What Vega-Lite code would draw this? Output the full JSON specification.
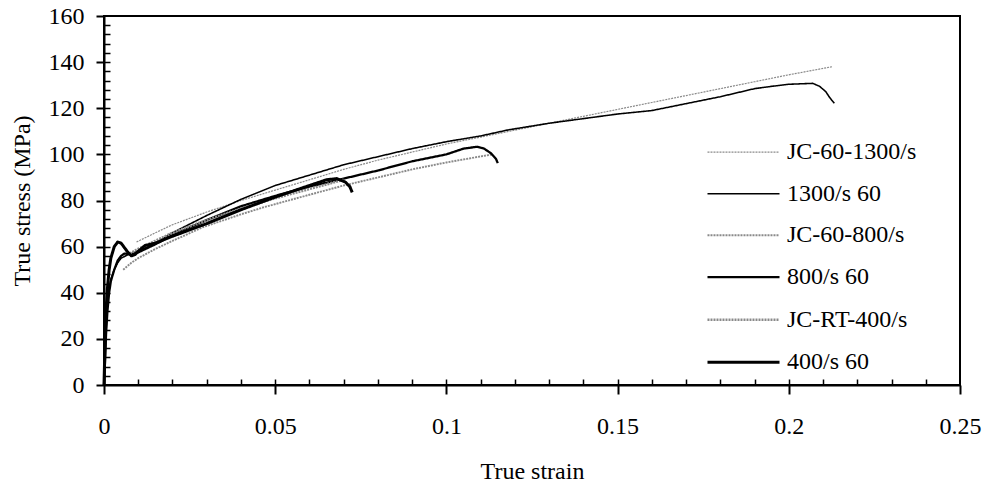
{
  "$schema": "https://vega.github.io/schema/vega-lite/v6.json",
  "autosize": {"type": "none"},
  "width": 856,
  "height": 369,
  "padding": {"left": 104, "top": 16, "right": 26, "bottom": 100},
  "background": "white",
  "config": {
    "font": "Liberation Serif",
    "view": {"stroke": "#000000", "strokeWidth": 2},
    "axis": {
      "labelFont": "Liberation Serif",
      "titleFont": "Liberation Serif",
      "labelFontSize": 24,
      "titleFontSize": 24,
      "titleFontWeight": "normal",
      "labelColor": "black",
      "titleColor": "black",
      "grid": false,
      "labelFlush": false,
      "labelOverlap": false
    },
    "legend": {
      "labelFont": "Liberation Serif",
      "labelFontSize": 24,
      "labelColor": "black"
    }
  },
  "data": {
    "values": [
      {"s": "JC-60-1300/s", "x": 0.0095, "y": 62},
      {"s": "JC-60-1300/s", "x": 0.015, "y": 66},
      {"s": "JC-60-1300/s", "x": 0.02, "y": 69.5},
      {"s": "JC-60-1300/s", "x": 0.03, "y": 75},
      {"s": "JC-60-1300/s", "x": 0.04, "y": 80},
      {"s": "JC-60-1300/s", "x": 0.05, "y": 84.5},
      {"s": "JC-60-1300/s", "x": 0.06, "y": 89},
      {"s": "JC-60-1300/s", "x": 0.07, "y": 93.5},
      {"s": "JC-60-1300/s", "x": 0.08, "y": 97.5},
      {"s": "JC-60-1300/s", "x": 0.09, "y": 101},
      {"s": "JC-60-1300/s", "x": 0.1, "y": 104.5},
      {"s": "JC-60-1300/s", "x": 0.11, "y": 107.5},
      {"s": "JC-60-1300/s", "x": 0.12, "y": 110.5},
      {"s": "JC-60-1300/s", "x": 0.13, "y": 113.5},
      {"s": "JC-60-1300/s", "x": 0.14, "y": 116.5},
      {"s": "JC-60-1300/s", "x": 0.15, "y": 119.5},
      {"s": "JC-60-1300/s", "x": 0.16, "y": 122.5},
      {"s": "JC-60-1300/s", "x": 0.17, "y": 125.5},
      {"s": "JC-60-1300/s", "x": 0.18, "y": 128.5},
      {"s": "JC-60-1300/s", "x": 0.19, "y": 131.5},
      {"s": "JC-60-1300/s", "x": 0.2, "y": 134.5},
      {"s": "JC-60-1300/s", "x": 0.2126, "y": 138},

      {"s": "1300/s  60", "x": 0, "y": 0},
      {"s": "1300/s  60", "x": 0.0003, "y": 12},
      {"s": "1300/s  60", "x": 0.0006, "y": 25},
      {"s": "1300/s  60", "x": 0.001, "y": 36},
      {"s": "1300/s  60", "x": 0.0015, "y": 42},
      {"s": "1300/s  60", "x": 0.002, "y": 46},
      {"s": "1300/s  60", "x": 0.003, "y": 50},
      {"s": "1300/s  60", "x": 0.004, "y": 53},
      {"s": "1300/s  60", "x": 0.005, "y": 55},
      {"s": "1300/s  60", "x": 0.007, "y": 56.5},
      {"s": "1300/s  60", "x": 0.01, "y": 58},
      {"s": "1300/s  60", "x": 0.015, "y": 61.5},
      {"s": "1300/s  60", "x": 0.02, "y": 66},
      {"s": "1300/s  60", "x": 0.03, "y": 73.5},
      {"s": "1300/s  60", "x": 0.04, "y": 80.5},
      {"s": "1300/s  60", "x": 0.05, "y": 86.5},
      {"s": "1300/s  60", "x": 0.06, "y": 91},
      {"s": "1300/s  60", "x": 0.07, "y": 95.5},
      {"s": "1300/s  60", "x": 0.08, "y": 99},
      {"s": "1300/s  60", "x": 0.09, "y": 102.5},
      {"s": "1300/s  60", "x": 0.1, "y": 105.5},
      {"s": "1300/s  60", "x": 0.11, "y": 108},
      {"s": "1300/s  60", "x": 0.118, "y": 110.6},
      {"s": "1300/s  60", "x": 0.13, "y": 113.5},
      {"s": "1300/s  60", "x": 0.14, "y": 115.5},
      {"s": "1300/s  60", "x": 0.15, "y": 117.5},
      {"s": "1300/s  60", "x": 0.16, "y": 119},
      {"s": "1300/s  60", "x": 0.17, "y": 122},
      {"s": "1300/s  60", "x": 0.18, "y": 125},
      {"s": "1300/s  60", "x": 0.19, "y": 128.5},
      {"s": "1300/s  60", "x": 0.195, "y": 129.5},
      {"s": "1300/s  60", "x": 0.2, "y": 130.4},
      {"s": "1300/s  60", "x": 0.207, "y": 130.8},
      {"s": "1300/s  60", "x": 0.209, "y": 129.5},
      {"s": "1300/s  60", "x": 0.2108, "y": 127.2},
      {"s": "1300/s  60", "x": 0.212, "y": 124.5},
      {"s": "1300/s  60", "x": 0.2133, "y": 122.2},

      {"s": "JC-60-800/s", "x": 0.0056, "y": 50},
      {"s": "JC-60-800/s", "x": 0.008, "y": 53},
      {"s": "JC-60-800/s", "x": 0.01, "y": 55},
      {"s": "JC-60-800/s", "x": 0.015, "y": 59},
      {"s": "JC-60-800/s", "x": 0.02, "y": 62.5},
      {"s": "JC-60-800/s", "x": 0.029, "y": 68.5},
      {"s": "JC-60-800/s", "x": 0.04, "y": 74},
      {"s": "JC-60-800/s", "x": 0.0465, "y": 77},
      {"s": "JC-60-800/s", "x": 0.06, "y": 82.5},
      {"s": "JC-60-800/s", "x": 0.07, "y": 86.5},
      {"s": "JC-60-800/s", "x": 0.08, "y": 90},
      {"s": "JC-60-800/s", "x": 0.09, "y": 93.5},
      {"s": "JC-60-800/s", "x": 0.1, "y": 96.5},
      {"s": "JC-60-800/s", "x": 0.1134, "y": 100},

      {"s": "800/s  60", "x": 0, "y": 0},
      {"s": "800/s  60", "x": 0.0003, "y": 10},
      {"s": "800/s  60", "x": 0.0006, "y": 22},
      {"s": "800/s  60", "x": 0.001, "y": 32},
      {"s": "800/s  60", "x": 0.0015, "y": 40},
      {"s": "800/s  60", "x": 0.002, "y": 45},
      {"s": "800/s  60", "x": 0.003, "y": 50},
      {"s": "800/s  60", "x": 0.004, "y": 54},
      {"s": "800/s  60", "x": 0.005, "y": 56},
      {"s": "800/s  60", "x": 0.006, "y": 57},
      {"s": "800/s  60", "x": 0.008, "y": 56.5},
      {"s": "800/s  60", "x": 0.01, "y": 57.5},
      {"s": "800/s  60", "x": 0.015, "y": 61},
      {"s": "800/s  60", "x": 0.02, "y": 65},
      {"s": "800/s  60", "x": 0.03, "y": 71.5},
      {"s": "800/s  60", "x": 0.04, "y": 77.5},
      {"s": "800/s  60", "x": 0.05, "y": 82},
      {"s": "800/s  60", "x": 0.06, "y": 86},
      {"s": "800/s  60", "x": 0.07, "y": 89.5},
      {"s": "800/s  60", "x": 0.08, "y": 93},
      {"s": "800/s  60", "x": 0.09, "y": 97},
      {"s": "800/s  60", "x": 0.1, "y": 100},
      {"s": "800/s  60", "x": 0.105, "y": 102.5},
      {"s": "800/s  60", "x": 0.109, "y": 103.3},
      {"s": "800/s  60", "x": 0.111, "y": 102.5},
      {"s": "800/s  60", "x": 0.113, "y": 100.5},
      {"s": "800/s  60", "x": 0.1145, "y": 98},
      {"s": "800/s  60", "x": 0.115, "y": 96.2},

      {"s": "JC-RT-400/s", "x": 0.0075, "y": 57},
      {"s": "JC-RT-400/s", "x": 0.01, "y": 59},
      {"s": "JC-RT-400/s", "x": 0.015, "y": 62.5},
      {"s": "JC-RT-400/s", "x": 0.02, "y": 66},
      {"s": "JC-RT-400/s", "x": 0.03, "y": 71.5},
      {"s": "JC-RT-400/s", "x": 0.04, "y": 76.5},
      {"s": "JC-RT-400/s", "x": 0.05, "y": 81},
      {"s": "JC-RT-400/s", "x": 0.06, "y": 85},
      {"s": "JC-RT-400/s", "x": 0.07, "y": 89},

      {"s": "400/s  60", "x": 0, "y": 0},
      {"s": "400/s  60", "x": 0.0003, "y": 18},
      {"s": "400/s  60", "x": 0.0006, "y": 32},
      {"s": "400/s  60", "x": 0.001, "y": 42},
      {"s": "400/s  60", "x": 0.0015, "y": 50},
      {"s": "400/s  60", "x": 0.002, "y": 55},
      {"s": "400/s  60", "x": 0.003, "y": 60},
      {"s": "400/s  60", "x": 0.004, "y": 62},
      {"s": "400/s  60", "x": 0.005, "y": 61.5},
      {"s": "400/s  60", "x": 0.006, "y": 59.5},
      {"s": "400/s  60", "x": 0.007, "y": 57.5},
      {"s": "400/s  60", "x": 0.008, "y": 56},
      {"s": "400/s  60", "x": 0.009, "y": 56.5},
      {"s": "400/s  60", "x": 0.01, "y": 58},
      {"s": "400/s  60", "x": 0.012, "y": 60.5},
      {"s": "400/s  60", "x": 0.015, "y": 61.5},
      {"s": "400/s  60", "x": 0.02, "y": 64.5},
      {"s": "400/s  60", "x": 0.03, "y": 70},
      {"s": "400/s  60", "x": 0.04, "y": 76},
      {"s": "400/s  60", "x": 0.05, "y": 81.5},
      {"s": "400/s  60", "x": 0.06, "y": 86.5},
      {"s": "400/s  60", "x": 0.065, "y": 89},
      {"s": "400/s  60", "x": 0.068, "y": 89.5},
      {"s": "400/s  60", "x": 0.0705, "y": 88},
      {"s": "400/s  60", "x": 0.0718, "y": 86},
      {"s": "400/s  60", "x": 0.0725, "y": 83.5}
    ]
  },
  "layer": [
    {
      "mark": {"type": "line", "strokeJoin": "round"},
      "encoding": {
        "x": {
          "field": "x", "type": "quantitative",
          "scale": {"domain": [0, 0.25], "nice": false, "zero": false},
          "axis": {
            "orient": "bottom",
            "values": [0, 0.05, 0.1, 0.15, 0.2, 0.25],
            "labelExpr": "format(datum.value, '~g')",
            "ticks": true,
            "tickColor": "#000000",
            "tickWidth": 2,
            "tickSize": 9,
            "domainColor": "#000000",
            "domainWidth": 2,
            "labelPadding": 20,
            "title": "True strain",
            "titlePadding": 21
          }
        },
        "y": {
          "field": "y", "type": "quantitative",
          "scale": {"domain": [0, 160], "nice": false},
          "axis": {
            "orient": "left",
            "values": [0, 20, 40, 60, 80, 100, 120, 140, 160],
            "ticks": true,
            "tickColor": "#000000",
            "tickWidth": 2,
            "tickSize": 8,
            "domainColor": "#000000",
            "domainWidth": 2,
            "labelPadding": 12,
            "title": "True stress (MPa)",
            "titlePadding": 14
          }
        },
        "color": {
          "field": "s", "type": "nominal",
          "scale": {
            "domain": ["JC-60-1300/s", "1300/s  60", "JC-60-800/s", "800/s  60", "JC-RT-400/s", "400/s  60"],
            "range": ["#8a8a8a", "#000000", "#8a8a8a", "#000000", "#8a8a8a", "#000000"]
          },
          "legend": {
            "title": null,
            "orient": "none",
            "legendX": 625,
            "legendY": 122.2,
            "padding": 0,
            "symbolType": "M-2.77,0H2.77",
            "symbolSize": 676,
            "labelOffset": 29,
            "rowPadding": 15.5,
            "labelLimit": 400
          }
        },
        "strokeWidth": {
          "field": "s", "type": "nominal",
          "scale": {
            "domain": ["JC-60-1300/s", "1300/s  60", "JC-60-800/s", "800/s  60", "JC-RT-400/s", "400/s  60"],
            "range": [1.2, 3, 1.2, 3, 1.2, 3]
          }
        },
        "strokeDash": {
          "field": "s", "type": "nominal",
          "scale": {
            "domain": ["JC-60-1300/s", "1300/s  60", "JC-60-800/s", "800/s  60", "JC-RT-400/s", "400/s  60"],
            "range": [[2, 1], [1, 0], [2, 1], [1, 0], [2, 1], [1, 0]]
          }
        }
      }
    },
    {
      "mark": {"type": "point", "opacity": 0},
      "encoding": {
        "x": {
          "field": "x", "type": "quantitative",
          "scale": {"domain": [0, 0.25], "nice": false, "zero": false},
          "axis": {
            "orient": "bottom",
            "values": [0, 0.01, 0.02, 0.03, 0.04, 0.05, 0.06, 0.07, 0.08, 0.09, 0.1, 0.11, 0.12, 0.13, 0.14, 0.15, 0.16, 0.17, 0.18, 0.19, 0.2, 0.21, 0.22, 0.23, 0.24],
            "labels": false,
            "domain": false,
            "title": null,
            "ticks": true,
            "tickColor": "#000000",
            "tickWidth": 1.5,
            "tickSize": -6
          }
        },
        "y": {
          "field": "y", "type": "quantitative",
          "scale": {"domain": [0, 160], "nice": false},
          "axis": {
            "orient": "left",
            "values": [4, 8, 12, 16, 20, 24, 28, 32, 36, 40, 44, 48, 52, 56, 60, 64, 68, 72, 76, 80, 84, 88, 92, 96, 100, 104, 108, 112, 116, 120, 124, 128, 132, 136, 140, 144, 148, 152, 156],
            "labels": false,
            "domain": false,
            "title": null,
            "ticks": true,
            "tickColor": "#000000",
            "tickWidth": 1.5,
            "tickSize": -6
          }
        }
      }
    }
  ],
  "resolve": {"axis": {"x": "independent", "y": "independent"}}
}
